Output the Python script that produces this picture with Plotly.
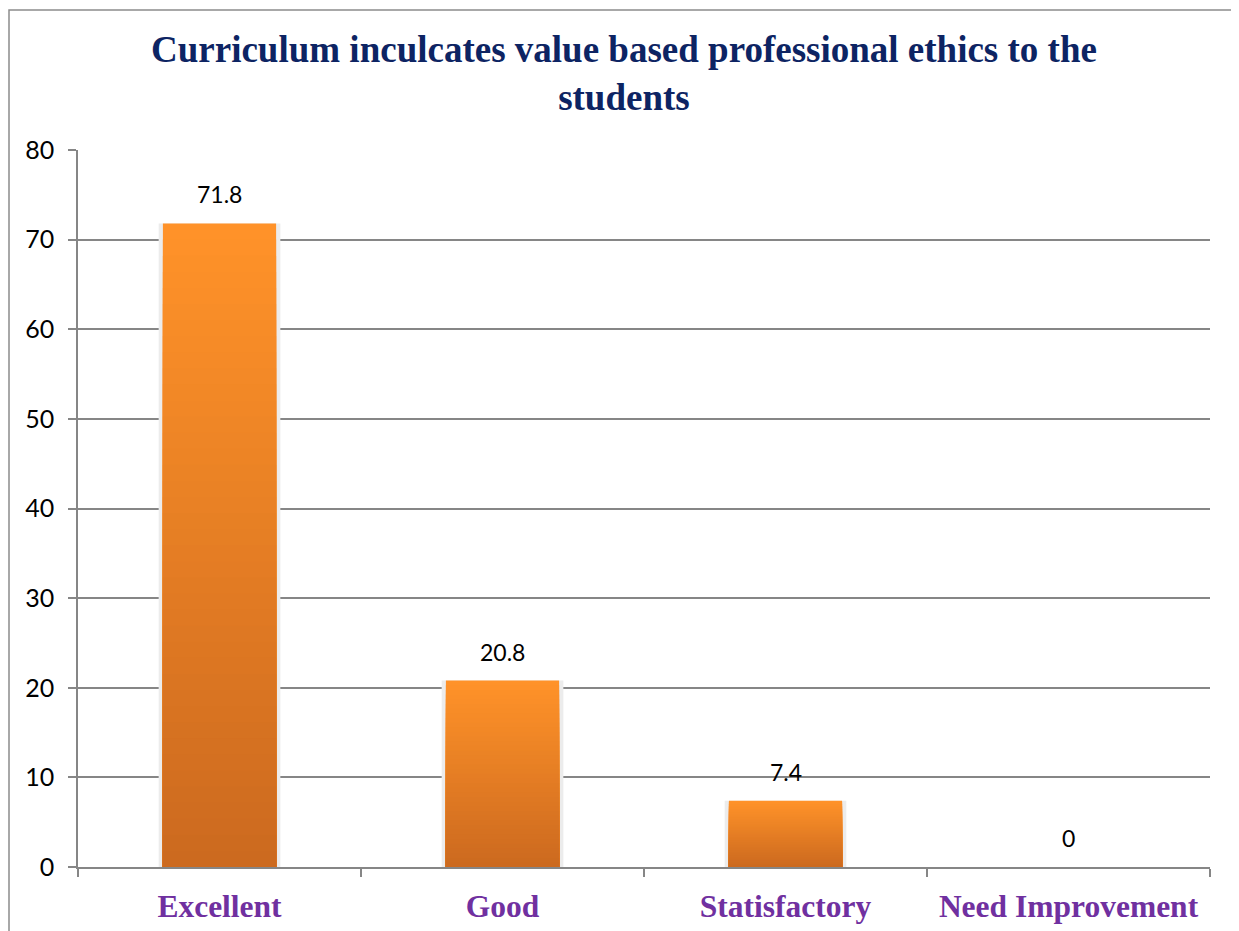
import plotly.graph_objects as go

categories = ["Excellent", "Good", "Statisfactory", "Need Improvement"]
values = [71.8, 20.8, 7.4, 0]
y_ticks = [0, 10, 20, 30, 40, 50, 60, 70, 80]

title = "Curriculum inculcates value based professional ethics to the<br>students"

TOP = (255, 146, 41)
BOTTOM = (204, 106, 31)
STEPS = 40

# page body has an 8px margin, so the figure is laid out 8px up/left
OFF = 8
L, T, PW, PH = 78 - OFF, 150 - OFF, 1132, 717

fig = go.Figure()

# faint shadow behind the bars
fig.add_trace(go.Bar(x=categories, y=values, width=0.43,
                     marker=dict(color="#ECECEC", line_width=0),
                     hoverinfo="skip", showlegend=False))

# vertical gradient, light on top, built from overlaid partial bars
for k in range(STEPS):
    t = k / (STEPS - 1)
    rgb = tuple(round(a + (b - a) * t) for a, b in zip(TOP, BOTTOM))
    frac = (STEPS - k) / STEPS
    fig.add_trace(go.Bar(
        x=categories, y=[v * frac for v in values], width=0.4,
        marker=dict(color="rgb(%d,%d,%d)" % rgb, line_width=0),
        hoverinfo="skip", showlegend=False,
    ))

for c, v in zip(categories, values):
    fig.add_annotation(x=c, y=v, text=str(v), showarrow=False, yshift=29,
                       font=dict(family="Lato", size=23, color="#000000"))

fig.add_annotation(
    text=title, showarrow=False, xref="paper", yref="paper",
    x=(624 - OFF - L) / PW, y=(867 - 74) / PH,
    xanchor="center", yanchor="middle",
    font=dict(family="Liberation Serif", size=37, color="#0D2463", weight="bold"),
)

fig.update_layout(
    width=1239, height=931,
    barmode="overlay",
    plot_bgcolor="white", paper_bgcolor="white",
    margin=dict(l=L, r=1239 - L - PW, t=T, b=931 - T - PH),
    xaxis=dict(
        type="category", tickson="boundaries", ticks="outside", ticklen=8,
        tickcolor="#868686", tickwidth=1.5,
        showline=True, linecolor="#868686", linewidth=1.5,
        showgrid=False, ticklabelstandoff=10,
        tickfont=dict(family="Liberation Serif", size=31.5, color="#7030A0",
                      weight="bold"),
    ),
    yaxis=dict(
        range=[0, 80], tickvals=y_ticks, ticks="outside", ticklen=8,
        tickcolor="#868686", tickwidth=1.5,
        showline=True, linecolor="#868686", linewidth=1.5,
        showgrid=True, gridcolor="#868686", gridwidth=1.5,
        zeroline=False, ticklabelstandoff=9,
        tickfont=dict(family="Lato", size=25, color="#000000"),
    ),
)

# outer chart border
fig.add_shape(type="rect", xref="paper", yref="paper",
              x0=(9 - 78) / PW, x1=(1237 - 78) / PW,
              y0=(867 - 945) / PH, y1=(867 - 10) / PH,
              line=dict(color="#8C8C8C", width=1.5), layer="below")

fig.write_html("out.html")
